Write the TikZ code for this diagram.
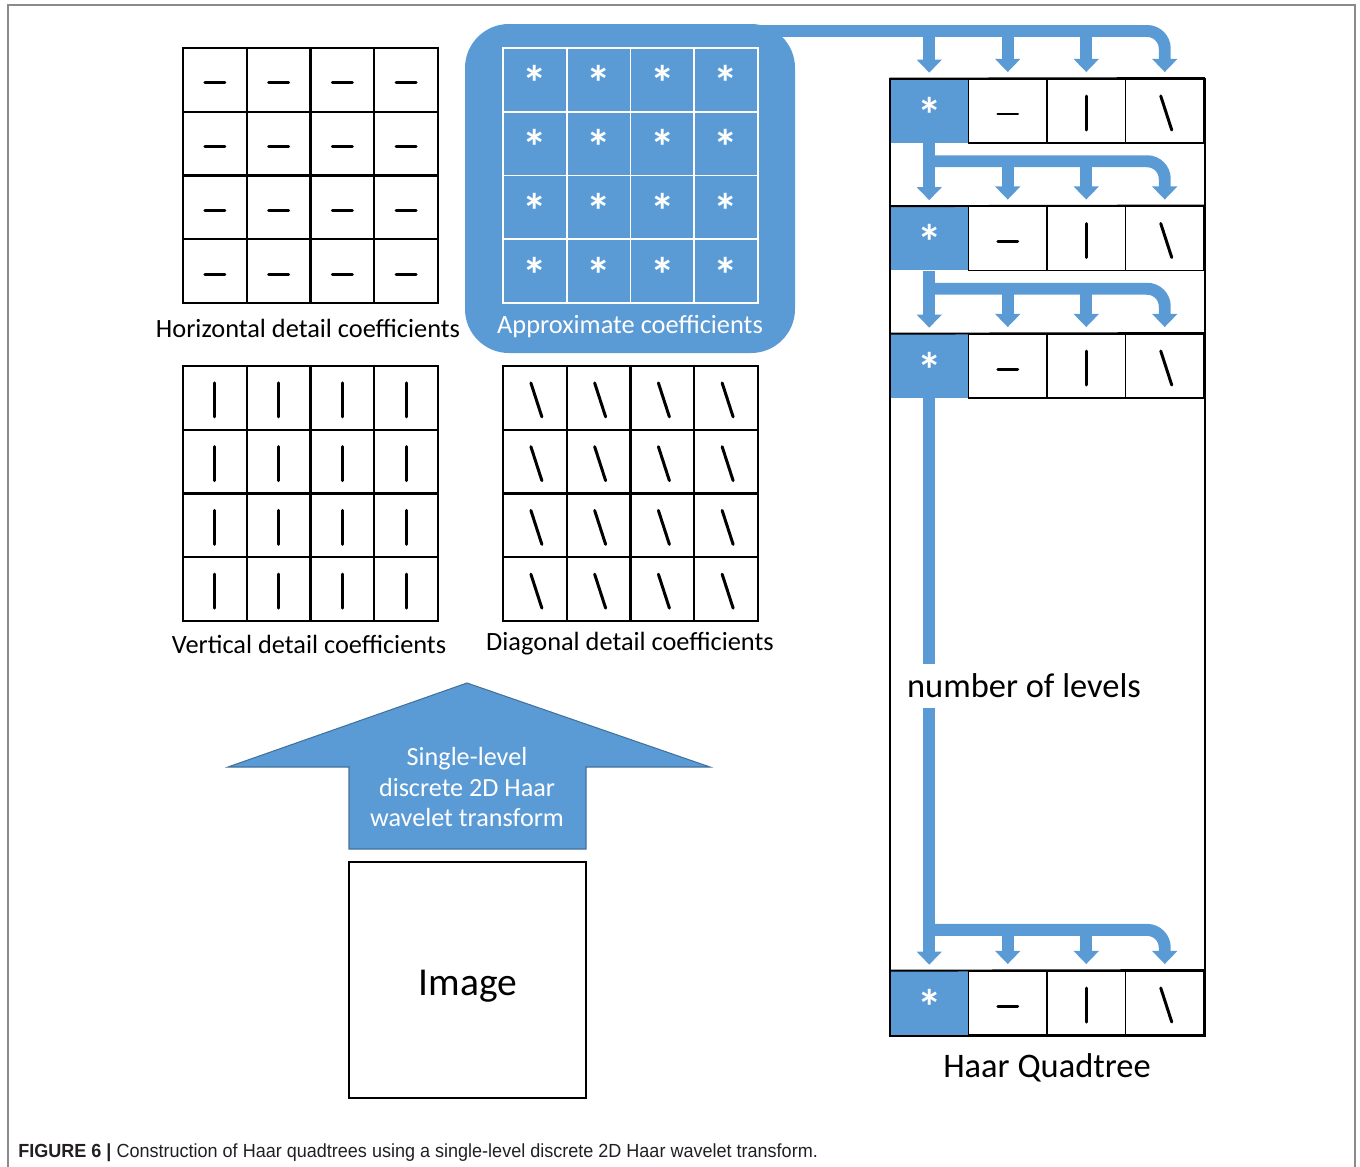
\documentclass[tikz,border=0pt]{standalone}
\usepackage{fontspec}
\setmainfont{Carlito}
\newfontfamily\captionfont[FakeStretch=0.95]{Liberation Sans}
\usetikzlibrary{arrows.meta,calc}

\definecolor{haarblue}{HTML}{5B9BD5}
\definecolor{haaredge}{HTML}{41719C}
\definecolor{framegray}{HTML}{8A8A8A}
\definecolor{captiongray}{HTML}{231F20}

\def\cs{63.75}% side of one grid cell
% 4x4 coefficient grid: #1,#2 top left corner, #3 extra line options
\newcommand{\coeffgrid}[3]{%
  \draw[line width=1.4pt,#3] (#1,#2) rectangle ++(4*\cs,4*\cs);
  \foreach \k in {1,2,3} {
    \draw[line width=1.4pt,#3] (#1+\k*\cs,#2) -- ++(0,4*\cs);
    \draw[line width=1.4pt,#3] (#1,#2+\k*\cs) -- ++(4*\cs,0);
  }
}
% coefficient symbols, #1 is the cell centre
\newcommand{\hmark}[1]{\draw[sym] ([shift={(-10,3)}]#1) -- ([shift={(10,3)}]#1);}
\newcommand{\vmark}[1]{\draw[sym] ([shift={(0,-15)}]#1) -- ([shift={(0,19)}]#1);}
\newcommand{\dmark}[1]{\draw[sym] ([shift={(-4,-15)}]#1) -- ([shift={(7,19)}]#1);}
\newcommand{\amark}[1]{\node[astx,anchor=base] at ([shift={(0,21)}]#1) {*};}

\begin{document}
\begin{tikzpicture}[x=0.02cm,y=-0.02cm,
    sym/.style={line width=1.7pt,line cap=round},
    astx/.style={text=white,inner sep=0pt,font=\fontsize{28}{30}\selectfont\bfseries},
    gridlabel/.style={inner sep=0pt,font=\fontsize{15}{18}\selectfont},
    qcell/.style={minimum width=1.57cm,minimum height=1.28cm,inner sep=0pt},
    trunk/.style={draw=haarblue,line width=6.8pt},
    flow/.style={trunk,-{Triangle[width=14pt,length=7.5pt]}}]
  %%%%% START %%%%%
  \useasboundingbox (0,0) rectangle (1360,1167);
  \draw[framegray,line width=1.1pt] (8,1167) -- (8,5) -- (1355,5) -- (1355,1167);

  % approximation block
  \fill[haarblue,rounded corners=25pt] (465,24) rectangle (795,353);

  \coeffgrid{183}{48}{black}
  \coeffgrid{503}{48}{white,line width=1.1pt}
  \coeffgrid{183}{366}{black}
  \coeffgrid{503}{366}{black}

  \foreach \i in {0,...,3}
    \foreach \j in {0,...,3} {
      \pgfmathsetmacro\cx{\i*\cs+\cs/2}
      \pgfmathsetmacro\cy{\j*\cs+\cs/2}
      \hmark{183+\cx,48+\cy}
      \amark{503+\cx,48+\cy}
      \vmark{183+\cx,366+\cy}
      \dmark{503+\cx,366+\cy}
    }

  \node[gridlabel] (hlab) at (308,328) {Horizontal detail coefficients};
  \node[gridlabel,text=white] (alab) at (630,327) {Approximate coefficients};
  \node[gridlabel] (vlab) at (309,644) {Vertical detail coefficients};
  \node[gridlabel] (dlab) at (630,644) {Diagonal detail coefficients};

  % transform arrow and input image
  \draw[fill=haarblue,draw=haaredge,line width=0.6pt] (349,849) -- (349,767) -- (228,767)
    -- (467,683) -- (710,767) -- (586,767) -- (586,849) -- cycle;
  \node[align=center,text=white,inner sep=0pt,font=\fontsize{14.9}{17.6}\selectfont]
    (xform) at (467,787) {Single-level\\discrete 2D Haar\\wavelet transform};
  \node[draw,line width=1.1pt,minimum width=4.74cm,minimum height=4.72cm] (image) at (467.5,980) {};
  \node[anchor=base,inner sep=0pt,font=\fontsize{22.5}{26}\selectfont] (imgtext) at (468,995) {Image};

  % quadtree levels
  \foreach \row/\ry in {1/111,2/238.5,3/366,4/1003} {
    \node[qcell,fill=haarblue] (q\row1) at (929.25,\ry) {};
    \foreach \col in {2,3,4}
      \node[qcell,draw,line width=1.1pt] (q\row\col) at (890+\col*78.5-39.25,\ry) {};
    \draw[line width=1.1pt] (q\row1.north west) -- (q\row4.north east);
    \amark{q\row1.center}
    \hmark{q\row2.center}
    \vmark{q\row3.center}
    \dmark{q\row4.center}
  }
  \draw[line width=1.1pt] (q11.north west) rectangle (q44.south east);

  \node[inner xsep=2pt,inner ysep=5.5pt,font=\fontsize{19.6}{22}\selectfont] (levels) at (1024,686) {number of levels};
  \node[inner sep=0pt,font=\fontsize{19.6}{22}\selectfont] (qtlab) at (1047,1068) {Haar Quadtree};

  \foreach \row in {1,...,4}
    \foreach \col in {1,...,4}
      \coordinate (tip\row\col) at ([yshift=3.4pt]q\row\col.north);
  \coordinate (bar1) at (760,31);
  \coordinate (bar2) at ([yshift=-10.2pt]q11.south);
  \coordinate (bar3) at ([yshift=-10.2pt]q21.south);
  \coordinate (bar4) at ([yshift=23.2pt]q41.north);

  \draw[trunk] (q11.south) -- (bar2);
  \draw[trunk] (q21.south) -- (bar3);
  \draw[trunk] (q31.south) -- (q31.south |- levels.north);
  \draw[trunk] (q31.south |- levels.south) -- (bar4);
  \foreach \row in {1,...,4} {
    \draw[flow,rounded corners=10pt] (bar\row) -| (tip\row4);
    \foreach \col in {1,2,3}
      \draw[flow] (bar\row -| tip\row\col) -- (tip\row\col);
  }

  \node[anchor=base west,inner sep=0pt,text=captiongray,
    font=\captionfont\fontsize{10.8}{13}\selectfont] (caption) at (18,1157)
    {\textbf{FIGURE 6 |} Construction of Haar quadtrees using a single-level discrete 2D Haar wavelet transform.};
  %%%%% END %%%%%
\end{tikzpicture}
\end{document}
